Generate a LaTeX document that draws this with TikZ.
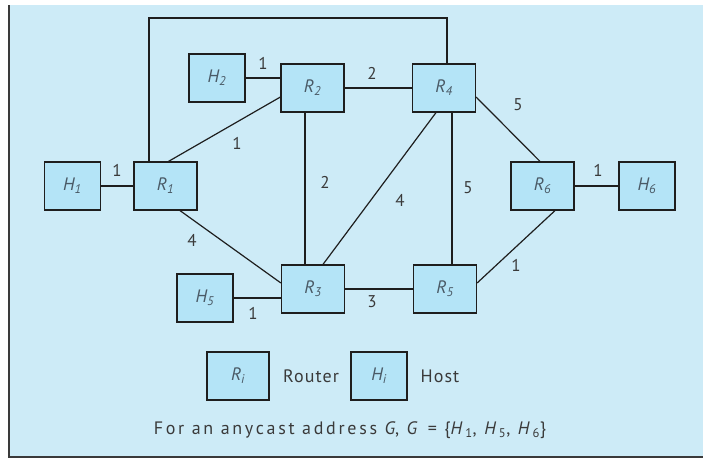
\documentclass[tikz,border=0pt]{standalone}
\usepackage{fontspec}
\setmainfont{PT Sans}
\definecolor{bgc}{HTML}{CDEBF7}
\definecolor{boxc}{HTML}{B4E4F7}
\definecolor{linec}{HTML}{1E1E1E}
\definecolor{labc}{HTML}{4A5A66}
\definecolor{numc}{HTML}{3A3A3A}
\definecolor{framec}{HTML}{3A3A3A}
\tikzset{
  box/.style={draw=linec, fill=boxc, line width=1.2pt, minimum height=48pt, inner sep=0pt,
    font=\itshape\fontsize{18}{18}\selectfont, text=labc},
  router/.style={box, minimum width=63pt},
  host/.style={box, minimum width=56pt},
  wt/.style={font=\fontsize{17}{17}\selectfont, text=numc, inner sep=0pt},
  link/.style={draw=linec, line width=1.2pt},
  plain/.style={font=\fontsize{18}{18}\selectfont\addfontfeatures{LetterSpace=6}, text=numc, inner sep=0pt}
}
\begin{document}
\begin{tikzpicture}[x=1pt,y=-1pt]
\useasboundingbox (0,0) rectangle (703,458);
\fill[bgc] (9,5) rectangle (703,457);
\draw[framec, line width=1.2pt] (9,5) -- (9,457) -- (703,457);

% nodes
\node[host]   (H1) at (72.5,186) {H\textsubscript{1}};
\node[router] (R1) at (165.5,186) {R\textsubscript{1}};
\node[host]   (H2) at (217,78) {H\textsubscript{2}};
\node[router] (R2) at (312.5,88) {R\textsubscript{2}};
\node[router] (R4) at (444,88) {R\textsubscript{4}};
\node[router] (R6) at (542.5,186) {R\textsubscript{6}};
\node[host]   (H6) at (647,186) {H\textsubscript{6}};
\node[host]   (H5) at (205,298) {H\textsubscript{5}};
\node[router] (R3) at (313,289) {R\textsubscript{3}};
\node[router] (R5) at (445,289) {R\textsubscript{5}};
\coordinate (top) at (0,18);

% links
\draw[link] (H1.east) -- (R1.west);
\draw[link] (H2.east) -- (H2.east -| R2.west);
\draw[link] (R2.east) -- (R4.west);
\draw[link] ([xshift=3pt]R1.north) -- ([yshift=-9pt]R2.west);
\draw[link] ([xshift=-16.5pt]R1.north) -- ([xshift=-16.5pt]R1.north |- top)
  -- ([xshift=3pt]R4.north |- top) -- ([xshift=3pt]R4.north);
\draw[link] ([xshift=-7.5pt]R2.south) -- ([xshift=-7.5pt]R2.south |- R3.north);
\draw[link] ([xshift=-8pt]R4.south) -- ([xshift=10pt]R3.north);
\draw[link] ([xshift=8pt]R4.south) -- ([xshift=8pt]R4.south |- R5.north);
\draw[link] ([xshift=14.5pt]R1.south) -- ([yshift=6pt]R3.west);
\draw[link] (H5.east) -- (H5.east -| R3.west);
\draw[link] (R3.east) -- (R5.west);
\draw[link] ([yshift=-9pt]R4.east) -- ([xshift=-2.5pt]R6.north);
\draw[link] ([yshift=6pt]R5.east) -- ([xshift=12.5pt]R6.south);
\draw[link] (R6.east) -- (H6.west);

% weights
\node[wt] (w1) at (117,170) {1};
\node[wt] (w2) at (263,63) {1};
\node[wt] (w3) at (372,73) {2};
\node[wt] (w4) at (237,143) {1};
\node[wt] (w5) at (325,182) {2};
\node[wt] (w6) at (400,200) {4};
\node[wt] (w7) at (468,188) {5};
\node[wt] (w8) at (518,105) {5};
\node[wt] (w9) at (598,170) {1};
\node[wt] (w10) at (516,265) {1};
\node[wt] (w11) at (192,240) {4};
\node[wt] (w12) at (253,313) {1};
\node[wt] (w13) at (372,302) {3};

% legend
\node[router, minimum width=62pt] (LR) at (238,376) {R\textsubscript{i}};
\node[plain] (LRt) at (311,376) {Router};
\node[host] (LH) at (379,376) {H\textsubscript{i}};
\node[plain] (LHt) at (440,376) {Host};
\node[plain, font=\fontsize{18}{18}\selectfont\addfontfeatures{LetterSpace=15}] (cap) at (350,430) {For an anycast address \textit{G}, \textit{G} = \{\textit{H}\textsubscript{1}, \textit{H}\textsubscript{5}, \textit{H}\textsubscript{6}\}};
\end{tikzpicture}
\end{document}
